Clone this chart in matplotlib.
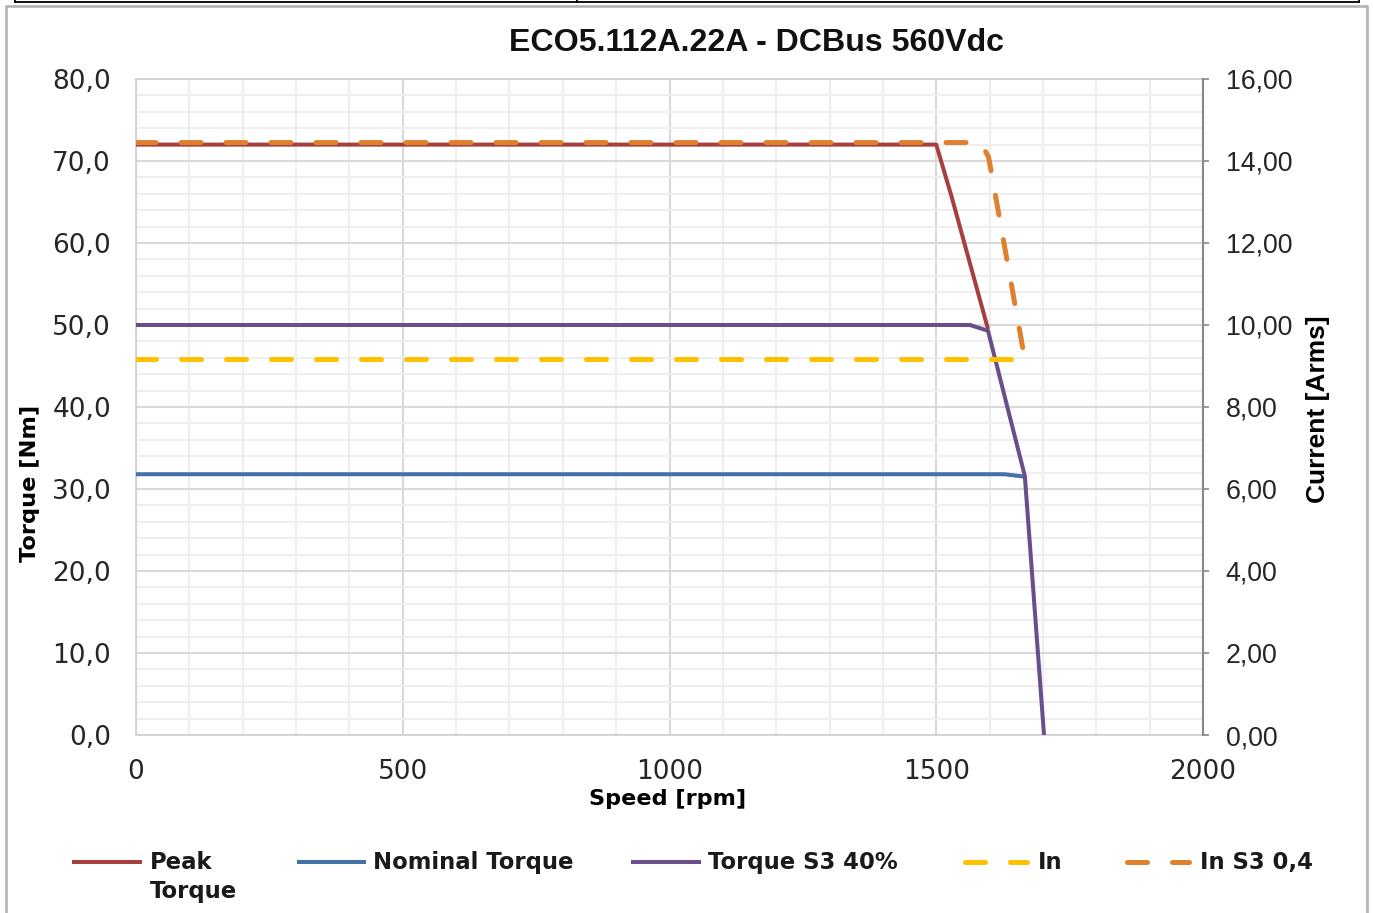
import matplotlib
matplotlib.use("Agg")
import matplotlib.pyplot as plt
from matplotlib.lines import Line2D
from matplotlib.ticker import MultipleLocator, FuncFormatter

plt.rcParams['lines.scale_dashes'] = False

# ---------------- data ----------------
title = "ECO5.112A.22A - DCBus 560Vdc"
series_names = ["Peak Torque", "Nominal Torque", "Torque S3 40%", "In", "In S3 0,4"]

speed_peak = [0, 1500, 1529, 1597]
torque_peak = [72.0, 72.0, 65.6, 49.5]

speed_nominal = [0, 1628, 1666]
torque_nominal = [31.8, 31.8, 31.5]

speed_s3 = [0, 1563, 1597, 1666, 1702]
torque_s3 = [50.0, 50.0, 49.3, 31.6, 0.0]

speed_in = [0, 1640]
current_in = [9.17, 9.17]

speed_in_s3 = [0, 1583, 1598, 1662]
current_in_s3 = [14.45, 14.45, 14.1, 9.45]

# ---------------- figure ----------------
W, H = 1373, 913
fig = plt.figure(figsize=(W / 100, H / 100), dpi=100)
fig.patch.set_facecolor("white")

def fx(px):
    return px / W

def fy(py):
    return 1 - py / H

L, R, T, B = 136, 1203, 79, 735
ax = fig.add_axes([fx(L), fy(B), (R - L) / W, (B - T) / H])
ax2 = ax.twinx()
ax.set_zorder(1)
ax2.set_zorder(2)
ax.patch.set_visible(True)
ax2.patch.set_visible(False)

c_red = "#A5403D"
c_blue = "#4471A8"
c_purple = "#6A4E8C"
c_yellow = "#FFC000"
c_orange = "#E0802F"

lw_solid = 2.9
lw_dash = 3.6
dash = (14.4, 18.0)

ax.plot(speed_peak, torque_peak, color=c_red, lw=lw_solid, solid_capstyle="butt", solid_joinstyle="round", zorder=3)
ax.plot(speed_nominal, torque_nominal, color=c_blue, lw=lw_solid, solid_capstyle="butt", solid_joinstyle="round", zorder=3)
ax.plot(speed_s3, torque_s3, color=c_purple, lw=lw_solid, solid_capstyle="butt", solid_joinstyle="round", zorder=4)

ax2.plot(speed_in, current_in, color=c_yellow, lw=lw_dash, dashes=dash, dash_capstyle="round", zorder=3)
ax2.plot(speed_in_s3, current_in_s3, color=c_orange, lw=lw_dash, dashes=dash, dash_capstyle="round", dash_joinstyle="round", zorder=3)

ax.set_xlim(0, 2000)
ax.set_ylim(0, 80)
ax2.set_ylim(0, 16)

ax.xaxis.set_major_locator(MultipleLocator(500))
ax.xaxis.set_minor_locator(MultipleLocator(100))
ax.yaxis.set_major_locator(MultipleLocator(10))
ax.yaxis.set_minor_locator(MultipleLocator(2))
ax2.yaxis.set_major_locator(MultipleLocator(2))

ax.grid(which="minor", axis="both", color="#EEEEEE", lw=1.5, zorder=0)
ax.grid(which="major", axis="both", color="#D9D9D9", lw=1.5, zorder=0)
ax.set_axisbelow(True)

ax.yaxis.set_major_formatter(FuncFormatter(lambda v, p: f"{v:.1f}".replace(".", ",")))
ax2.yaxis.set_major_formatter(FuncFormatter(lambda v, p: f"{v:.2f}".replace(".", ",")))
ax.xaxis.set_major_formatter(FuncFormatter(lambda v, p: f"{int(v)}"))

ax.tick_params(axis="both", which="both", length=0)
ax.tick_params(axis="y", pad=18, labelsize=19, labelcolor="#262626")
ax.tick_params(axis="x", pad=17.5, labelsize=19, labelcolor="#262626")
for lab in ax.get_yticklabels() + ax.get_xticklabels():
    lab.set_fontfamily("DejaVu Sans")

ax2.tick_params(axis="y", which="major", direction="out", length=4.3, width=1.2,
                color="#888888", pad=12, labelsize=19.3, labelcolor="#262626")
ax2.tick_params(axis="y", which="minor", length=0)
for lab in ax2.get_yticklabels():
    lab.set_fontfamily("Liberation Sans")

for s in ["left", "bottom", "top"]:
    ax.spines[s].set_color("#D0D0D0")
    ax.spines[s].set_linewidth(1.2)
ax.spines["right"].set_visible(False)
for s in ["left", "bottom", "top"]:
    ax2.spines[s].set_visible(False)
ax2.spines["right"].set_color("#888888")
ax2.spines["right"].set_linewidth(1.5)

# axis labels
ax.set_xlabel("Speed [rpm]", fontsize=16.1, fontweight="bold", family="DejaVu Sans", va="center")
ax.xaxis.set_label_coords((668 - L) / (R - L), (B - 799) / (B - T))
ax.set_ylabel("Torque [Nm]", fontsize=16.2, fontweight="bold", family="DejaVu Sans", va="center")
ax.yaxis.set_label_coords((30 - L) / (R - L), (B - 483) / (B - T))
ax2.set_ylabel("Current [Arms]", fontsize=19, fontweight="bold", family="Liberation Sans", va="center", rotation=90)
ax2.yaxis.set_label_coords((1318 - L) / (R - L), (B - 409) / (B - T))

# title
fig.text(fx(756.5), fy(43), title, ha="center", va="center", fontsize=23.1,
         fontweight="bold", family="Liberation Sans", color="#111111")

# legend (manual, Excel-like single row)
leg_items = [
    (series_names[0], c_red, None, 72, 142, 150),
    (series_names[1], c_blue, None, 297, 366, 373),
    (series_names[2], c_purple, None, 631, 701, 708),
    (series_names[3], c_yellow, dash, 962, 1030, 1038),
    (series_names[4], c_orange, dash, 1124, 1192, 1200),
]
ly = 862
leg_fs = 16.4
for name, col, ds, x0, x1, tx in leg_items:
    if ds is None:
        ln = Line2D([fx(x0), fx(x1)], [fy(ly), fy(ly)], transform=fig.transFigure,
                    color=col, lw=lw_solid, solid_capstyle="butt")
    else:
        ln = Line2D([fx(x0 + 3), fx(x1 - 3)], [fy(ly), fy(ly)], transform=fig.transFigure,
                    color=col, lw=lw_dash, dashes=dash, dash_capstyle="round")
    fig.add_artist(ln)
    if name == "Peak Torque":
        fig.text(fx(tx), fy(ly), "Peak", ha="left", va="center", fontsize=leg_fs,
                 fontweight="bold", family="DejaVu Sans", color="#1a1a1a")
        fig.text(fx(tx), fy(ly + 29), "Torque", ha="left", va="center", fontsize=leg_fs,
                 fontweight="bold", family="DejaVu Sans", color="#1a1a1a")
    else:
        fig.text(fx(tx), fy(ly), name, ha="left", va="center", fontsize=leg_fs,
                 fontweight="bold", family="DejaVu Sans", color="#1a1a1a")

# chart frame (grey) and page lines (black) around it
frame = Line2D([fx(5.5), fx(5.5), fx(1367), fx(1367)], [fy(913), fy(6.5), fy(6.5), fy(913)],
               transform=fig.transFigure, color="#B3B3B3", lw=1.9)
fig.add_artist(frame)
fig.add_artist(Line2D([fx(15), fx(1359)], [fy(2.5), fy(2.5)], transform=fig.transFigure,
                      color="black", lw=1.3))
for xv in (15, 577, 1359):
    fig.add_artist(Line2D([fx(xv), fx(xv)], [fy(0), fy(2.5)], transform=fig.transFigure,
                          color="black", lw=1.3))

fig.savefig("out.png", dpi=100, facecolor="white")
